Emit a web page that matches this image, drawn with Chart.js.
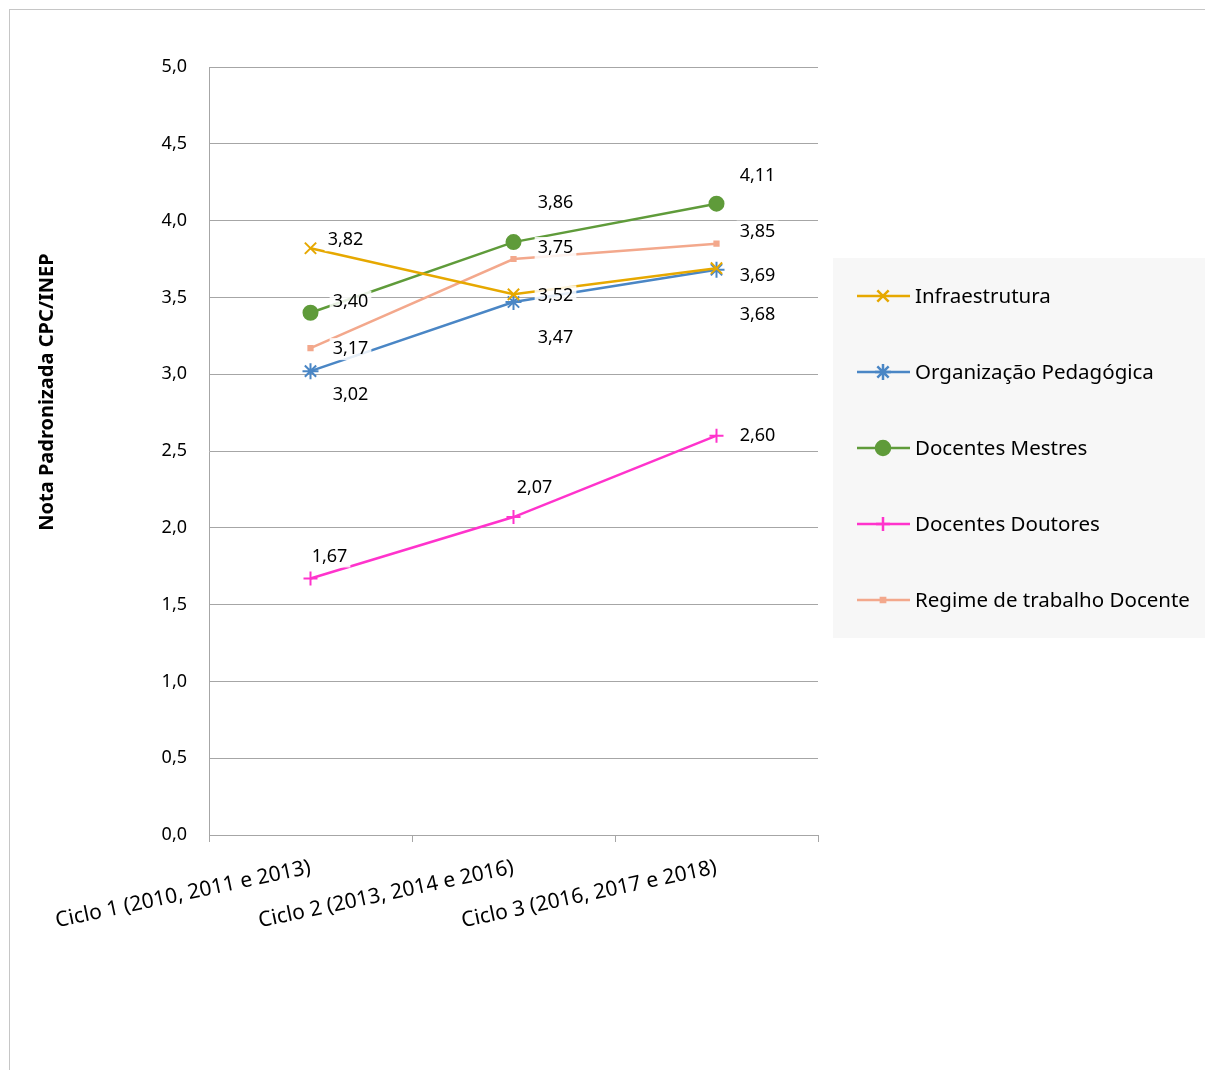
<!DOCTYPE html>
<html>
<head>
<meta charset="utf-8">
<script src="https://cdn.jsdelivr.net/npm/chart.js@4.4.1/dist/chart.umd.min.js"></script>
<style>
  html, body { margin: 0; padding: 0; background: #fff; }
  #wrap { width: 1205px; height: 1070px; position: relative; }
</style>
</head>
<body>
<div id="wrap"><canvas id="myChart" width="1205" height="1070"></canvas></div>
<script>
// ---- dados ----
const categories = ['Ciclo 1 (2010, 2011 e 2013)', 'Ciclo 2 (2013, 2014 e 2016)', 'Ciclo 3 (2016, 2017 e 2018)'];
const seriesNames = ['Infraestrutura', 'Organização Pedagógica', 'Docentes Mestres', 'Docentes Doutores', 'Regime de trabalho Docente'];
const infraestrutura = [3.82, 3.52, 3.69];
const organizacao    = [3.02, 3.47, 3.68];
const mestres        = [3.40, 3.86, 4.11];
const doutores       = [1.67, 2.07, 2.60];
const regime         = [3.17, 3.75, 3.85];
const yMin = 0, yMax = 5, yStep = 0.5;

// ---- estilo ----
const FONT = '"Noto Sans", "Open Sans", sans-serif';
const colors = ['#e6a800', '#4a86c5', '#5f9b3a', '#ff33cc', '#f3a88c'];
const markers = [
  { pointStyle: 'crossRot', pointRadius: 8 },
  { pointStyle: 'star', pointRadius: 8 },
  { pointStyle: 'circle', pointRadius: 7 },
  { pointStyle: 'cross', pointRadius: 7 },
  { pointStyle: 'rect', pointRadius: 3 }
];
// deslocamento dos rótulos de dados (px) relativo ao ponto
const labelOffsets = [
  [[35, -8], [42, 2], [41, 8]],
  [[40, 24], [42, 36], [41, 45]],
  [[40, -11], [42, -39], [41, -28]],
  [[19, -22], [21, -29], [41, 0]],
  [[40, 1], [42, -11], [41, -12]]
];

const fmt = (v, d) => v.toFixed(d).replace('.', ',');

const allSeries = [infraestrutura, organizacao, mestres, doutores, regime];
const datasets = allSeries.map((vals, i) => ({
  label: seriesNames[i],
  data: vals,
  borderColor: colors[i],
  backgroundColor: colors[i],
  pointBorderColor: colors[i],
  pointBackgroundColor: colors[i],
  borderWidth: 2.5,
  pointBorderWidth: 2,
  tension: 0,
  ...markers[i]
}));

// rótulos de dados com fundo branco
const dataLabels = {
  id: 'dataLabels',
  afterDatasetsDraw(chart) {
    const ctx = chart.ctx;
    ctx.save();
    ctx.font = '18px ' + FONT;
    ctx.textAlign = 'center';
    ctx.textBaseline = 'middle';
    chart.data.datasets.forEach((ds, i) => {
      chart.getDatasetMeta(i).data.forEach((pt, j) => {
        const txt = fmt(ds.data[j], 2);
        const x = pt.x + labelOffsets[i][j][0];
        const y = pt.y + labelOffsets[i][j][1];
        const w = ctx.measureText(txt).width + 6;
        ctx.fillStyle = 'rgba(255,255,255,0.85)';
        ctx.fillRect(x - w / 2, y - 11, w, 22);
        ctx.fillStyle = '#000';
        ctx.fillText(txt, x, y);
      });
    });
    ctx.restore();
  }
};

// legenda, título do eixo e moldura
const extras = {
  id: 'extras',
  afterDraw(chart) {
    const ctx = chart.ctx;
    ctx.save();
    // moldura
    ctx.strokeStyle = '#c6c6c6';
    ctx.lineWidth = 1;
    ctx.strokeRect(9.5, 9.5, 1300, 1300);
    // título do eixo Y
    ctx.translate(47, 392);
    ctx.rotate(-Math.PI / 2);
    ctx.font = 'bold 20px ' + FONT;
    ctx.fillStyle = '#000';
    ctx.textAlign = 'center';
    ctx.textBaseline = 'middle';
    ctx.fillText('Nota Padronizada CPC/INEP', 0, 0);
    ctx.setTransform(1, 0, 0, 1, 0, 0);
    // legenda
    ctx.fillStyle = '#f7f7f7';
    ctx.fillRect(833, 258, 372, 380);
    ctx.font = '20.5px ' + FONT;
    ctx.textAlign = 'left';
    chart.data.datasets.forEach((ds, i) => {
      const y = 296 + i * 76;
      ctx.strokeStyle = ds.borderColor;
      ctx.lineWidth = 2.5;
      ctx.beginPath();
      ctx.moveTo(857, y);
      ctx.lineTo(910, y);
      ctx.stroke();
      ctx.fillStyle = ds.borderColor;
      Chart.helpers.drawPoint(ctx, {
        pointStyle: ds.pointStyle, radius: ds.pointRadius, borderWidth: 2, rotation: 0
      }, 883, y);
      ctx.fillStyle = '#000';
      ctx.fillText(ds.label, 915, y + 1);
    });
    ctx.restore();
  }
};

const ctx = document.getElementById('myChart');
const myChart = new Chart(ctx, {
  type: 'line',
  data: { labels: categories, datasets },
  plugins: [dataLabels, extras],
  options: {
    responsive: false,
    animation: false,
    layout: { padding: { left: 0, top: 67, right: 387, bottom: 135 } },
    plugins: { legend: { display: false }, tooltip: { enabled: false } },
    scales: {
      x: {
        offset: true,
        border: { color: '#a6a6a6', width: 1 },
        grid: { offset: true, drawOnChartArea: false, drawTicks: true, tickLength: 7, color: '#a6a6a6' },
        ticks: {
          color: '#000', font: { family: FONT, size: 21 },
          maxRotation: 12, minRotation: 12, autoSkip: false, padding: 13
        },
        afterFit(scale) { scale.height = 100; }
      },
      y: {
        min: yMin, max: yMax,
        border: { color: '#a6a6a6', width: 1 },
        grid: { color: '#a6a6a6', drawTicks: false },
        ticks: {
          stepSize: yStep, color: '#000', padding: 22,
          font: { family: FONT, size: 18 },
          callback: v => fmt(v, 1)
        },
        afterFit(scale) { scale.width = 209; }
      }
    }
  }
});
</script>
</body>
</html>
